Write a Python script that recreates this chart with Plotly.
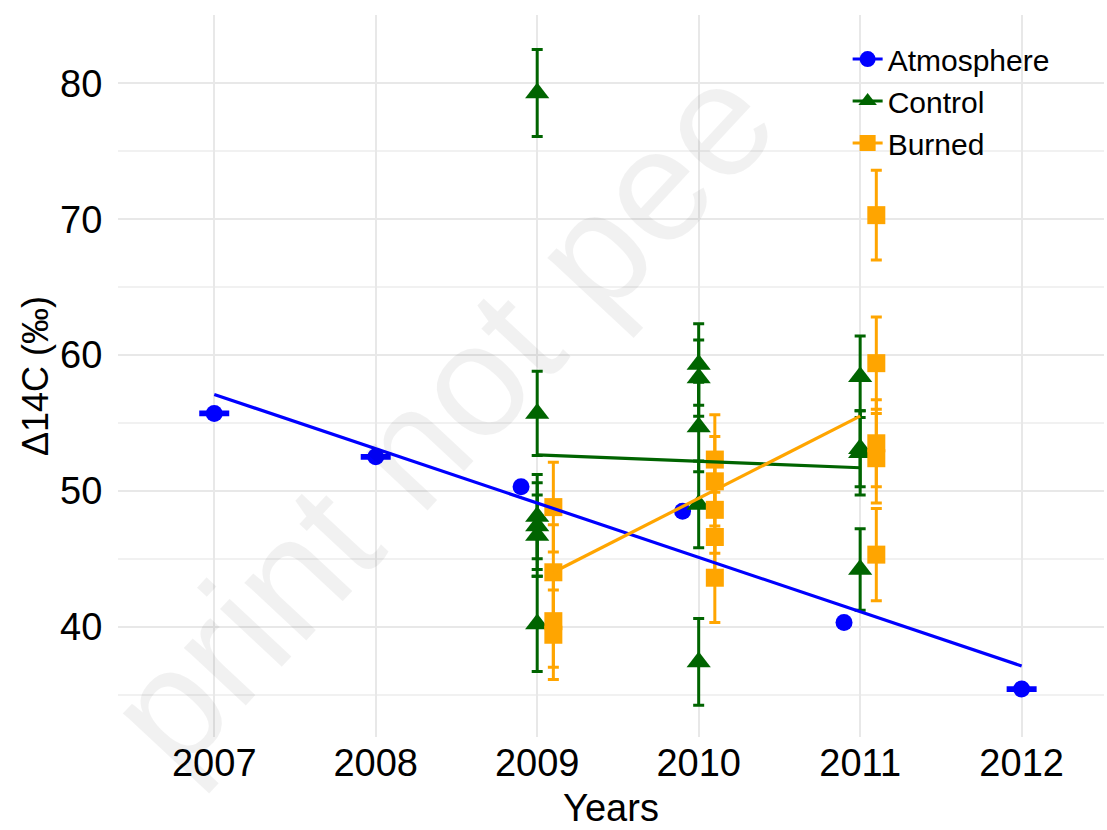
import plotly.graph_objects as go

# ---------------- data ----------------
atm_x = [2007, 2008, 2008.9, 2009.9, 2010.9, 2012]
atm_y = [55.7, 52.5, 50.3, 48.5, 40.3, 35.4]
atm_err = [0.1, 0.1, None, None, None, 0.1]

control_x = [2009] * 6 + [2010] * 5 + [2011] * 4
control_y = [79.3, 55.7, 48.1, 47.4, 46.7, 40.2,
             59.3, 58.3, 54.7, 49.0, 37.4,
             58.4, 53.1, 52.8, 44.2]
control_err = [3.2, 3.1, 3.1, 3.2, 3.0, 3.5,
               3.0, 2.8, 3.3, 3.2, 3.2,
               3.0, 2.8, 3.1, 3.0]

burned_x = [2009.1] * 4 + [2010.1] * 5 + [2011.1] * 5
burned_y = [48.8, 44.0, 40.4, 39.4,
            52.3, 50.7, 48.6, 46.6, 43.6,
            70.3, 59.4, 53.5, 52.4, 45.3]
burned_err = [3.3, 3.5, 3.4, 3.3,
              3.3, 3.3, 3.2, 3.3, 3.3,
              3.3, 3.4, 3.2, 3.3, 3.4]

# trend lines as drawn in the reference
atm_fit_x = [2007, 2012]
atm_fit_y = [57.1, 37.1]
control_fit_x = [2009, 2011]
control_fit_y = [52.65, 51.7]
burned_fit_x = [2009.1, 2011.0]
burned_fit_y = [44.0, 55.5]

series_names = ["Atmosphere", "Control", "Burned"]
x_ticks = [2007, 2008, 2009, 2010, 2011, 2012]
y_ticks = [40, 50, 60, 70, 80]

# ---------------- styles ----------------
BLUE = "#0000FF"
GREEN = "#006400"
ORANGE = "#FFA500"
FONT = "Liberation Sans, Arial, sans-serif"

fig = go.Figure()

# Atmosphere points with a measured error
with_err = [i for i, e in enumerate(atm_err) if e is not None]
without_err = [i for i, e in enumerate(atm_err) if e is None]
fig.add_trace(go.Scatter(
    x=[atm_x[i] for i in with_err], y=[atm_y[i] for i in with_err],
    mode="markers", showlegend=False, hoverinfo="x+y",
    marker=dict(symbol="circle", size=17, color=BLUE),
    error_y=dict(type="data", array=[atm_err[i] for i in with_err],
                 color=BLUE, thickness=3, width=15),
))
fig.add_trace(go.Scatter(
    x=[atm_x[i] for i in without_err], y=[atm_y[i] for i in without_err],
    mode="markers", showlegend=False, hoverinfo="x+y",
    marker=dict(symbol="circle", size=17, color=BLUE),
))

fig.add_trace(go.Scatter(
    x=control_x, y=control_y, mode="markers", showlegend=False,
    marker=dict(symbol="triangle-up", size=21, color=GREEN),
    error_y=dict(type="data", array=control_err, color=GREEN,
                 thickness=3, width=5.5),
))
fig.add_trace(go.Scatter(
    x=burned_x, y=burned_y, mode="markers", showlegend=False,
    marker=dict(symbol="square", size=18, color=ORANGE),
    error_y=dict(type="data", array=burned_err, color=ORANGE,
                 thickness=3, width=5.5),
))

# trend lines
for fx, fy, col in [(atm_fit_x, atm_fit_y, BLUE),
                    (control_fit_x, control_fit_y, GREEN),
                    (burned_fit_x, burned_fit_y, ORANGE)]:
    fig.add_trace(go.Scatter(x=fx, y=fy, mode="lines", showlegend=False,
                             line=dict(color=col, width=3.2), hoverinfo="skip"))

# legend entries
for name, col, sym in zip(series_names, [BLUE, GREEN, ORANGE],
                          ["circle", "triangle-up", "square"]):
    fig.add_trace(go.Scatter(x=[None], y=[None], mode="lines+markers", name=name,
                             line=dict(color=col, width=3),
                             marker=dict(symbol=sym, size=16, color=col)))

grid_major = "#E8E8E8"
grid_minor = "#F1F1F1"

fig.update_layout(
    width=1107, height=830,
    margin=dict(l=118, r=3, t=15, b=93),
    paper_bgcolor="white", plot_bgcolor="white",
    font=dict(family=FONT, color="#000000"),
    legend=dict(x=0.740, y=0.975, xanchor="left", yanchor="top",
                bgcolor="rgba(0,0,0,0)", font=dict(size=30, family=FONT)),
    xaxis=dict(range=[2006.404, 2012.51], tickvals=x_ticks,
               ticktext=[str(t) for t in x_ticks],
               tickfont=dict(size=38), ticks="",
               showgrid=True, gridcolor=grid_major, gridwidth=2,
               zeroline=False, showline=False,
               title=dict(text="Years", font=dict(size=38), standoff=11)),
    yaxis=dict(range=[31.87, 85.04], tickvals=y_ticks,
               tickfont=dict(size=38), ticks="outside", ticklen=7,
               tickcolor="rgba(0,0,0,0)",
               showgrid=True, gridcolor=grid_major, gridwidth=2,
               minor=dict(dtick=5, tick0=0, showgrid=True,
                          gridcolor=grid_minor, gridwidth=1.5),
               zeroline=False, showline=False,
               title=dict(text="Δ14C (‰)", font=dict(size=36), standoff=0)),
)

# faint preprint watermark (visible part of the stamp)
fig.add_annotation(text="print not pee", xref="paper", yref="paper",
                   x=(440 - 118) / 986, y=1 - (415 - 15) / 722,
                   xanchor="center", yanchor="middle",
                   showarrow=False, textangle=-47,
                   font=dict(size=160, family=FONT, color="rgba(0,0,0,0.055)"))

fig.write_html("out.html")
